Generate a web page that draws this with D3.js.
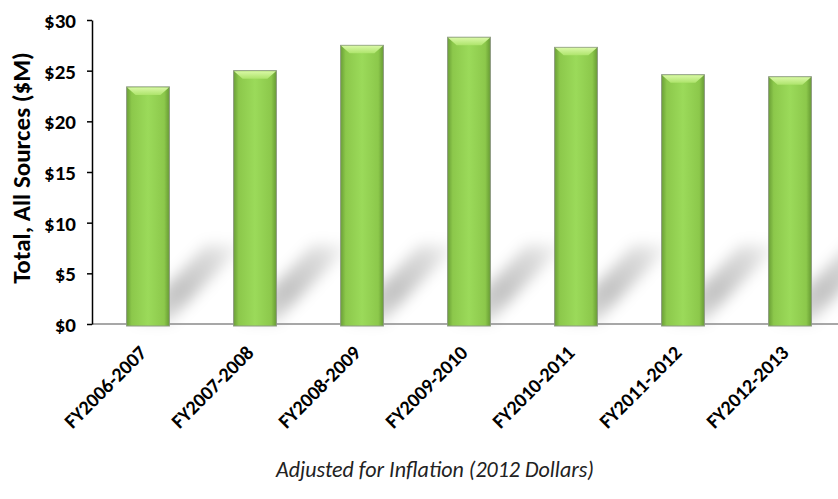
<!DOCTYPE html>
<html>
<head>
<meta charset="utf-8">
<script src="https://cdn.jsdelivr.net/npm/d3@7"></script>
<style>
  html, body { margin: 0; padding: 0; background: #fff; }
  svg { display: block; }
  text { font-family: Carlito, Lato, "Open Sans", sans-serif; }
</style>
</head>
<body>
<svg id="chart" width="838" height="499"></svg>
<script>
// values ($M, 2012 dollars)
const years = ['FY2006-2007', 'FY2007-2008', 'FY2008-2009', 'FY2009-2010', 'FY2010-2011', 'FY2011-2012', 'FY2012-2013'];
const totals = [23.4, 25.0, 27.5, 28.3, 27.3, 24.6, 24.4];
const yTicks = [0, 5, 10, 15, 20, 25, 30];

const W = 838, H = 499;
const svg = d3.select('#chart');

const x = d3.scaleBand().domain(years).range([94.5, 843.5]).paddingInner(0.6).paddingOuter(0.3);
const y = d3.scaleLinear().domain([0, 30]).range([324, 20]);
const base = y(0);

const defs = svg.append('defs');
const bodyGrad = defs.append('linearGradient').attr('id', 'bodyG').attr('x1', 0).attr('x2', 1).attr('y1', 0).attr('y2', 0);
[[0, '#6a9f36'], [0.12, '#8cc84b'], [0.5, '#9bda5a'], [0.88, '#8cc84b'], [1, '#679b33']]
  .forEach(([o, c]) => bodyGrad.append('stop').attr('offset', o).attr('stop-color', c));
const topGrad = defs.append('linearGradient').attr('id', 'topG').attr('x1', 0).attr('x2', 0).attr('y1', 0).attr('y2', 1);
[[0, '#d9f8a6'], [1, '#aee46c']].forEach(([o, c]) => topGrad.append('stop').attr('offset', o).attr('stop-color', c));
const shGrad = defs.append('linearGradient').attr('id', 'shG').attr('x1', 0).attr('x2', 1).attr('y1', 1).attr('y2', 0);
[[0, '#000', 0.08], [0.4, '#000', 0.24], [0.75, '#000', 0.15], [1, '#000', 0.02]]
  .forEach(([o, c, a]) => shGrad.append('stop').attr('offset', o).attr('stop-color', c).attr('stop-opacity', a));
defs.append('filter').attr('id', 'blur').attr('x', '-30%').attr('y', '-30%').attr('width', '160%').attr('height', '160%')
  .append('feGaussianBlur').attr('stdDeviation', 7);

const rows = years.map((k, i) => ({ k, v: totals[i] }));
const bw = x.bandwidth();

// floor shadows behind the bars
const sdx = 74, sdy = -80;
svg.append('g').attr('filter', 'url(#blur)').selectAll('polygon').data(rows).join('polygon')
  .attr('points', (d) => {
    const x0 = x(d.k);
    return [[x0 + 6, base - 2], [x0 + bw, base - 2], [x0 + bw + sdx, base + sdy], [x0 + 6 + sdx, base + sdy]].map((p) => p.join(',')).join(' ');
  })
  .attr('fill', 'url(#shG)');

// baseline
svg.append('line').attr('x1', 92).attr('x2', W).attr('y1', base).attr('y2', base)
  .attr('stroke', '#8a8a8a').attr('stroke-width', 1.5);

// bars
const bars = svg.append('g').selectAll('g').data(rows).join('g');
bars.append('rect')
  .attr('x', (d) => x(d.k)).attr('y', (d) => y(d.v))
  .attr('width', bw).attr('height', (d) => base - y(d.v) + 2)
  .attr('fill', 'url(#bodyG)').attr('stroke', '#8d9a82').attr('stroke-width', 1);
bars.append('polygon')
  .attr('points', (d) => {
    const x0 = x(d.k), t = y(d.v);
    return [[x0 + 0.5, t + 0.5], [x0 + bw - 0.5, t + 0.5], [x0 + bw - 9, t + 8], [x0 + 9, t + 8]].map((p) => p.join(',')).join(' ');
  })
  .attr('fill', 'url(#topG)');

// y axis
const yAxis = svg.append('g').attr('transform', 'translate(92,0)')
  .call(d3.axisLeft(y).tickValues(yTicks).tickSize(5).tickSizeOuter(0).tickFormat((d) => `$${d}`));
yAxis.select('.domain').attr('stroke', '#000').attr('stroke-width', 1.5);
yAxis.selectAll('.tick line').attr('stroke', '#000').attr('stroke-width', 1.5);
yAxis.selectAll('.tick text').attr('x', -16).attr('dy', '0.35em').attr('fill', '#000')
  .style('font-size', '21px').style('font-weight', 'bold').style('font-family', 'Carlito, Lato, sans-serif');

svg.append('text').attr('transform', 'translate(30,168) rotate(-90)')
  .attr('text-anchor', 'middle').style('font-size', '25px').style('font-weight', 'bold')
  .text('Total, All Sources ($M)');

// x labels
svg.append('g').selectAll('text').data(years).join('text')
  .attr('transform', (d) => `translate(${x(d) + bw / 2},${base + 30}) rotate(-45)`)
  .attr('text-anchor', 'end').style('font-size', '20px').style('font-weight', 'bold')
  .text((d) => d);

svg.append('text').attr('x', 435).attr('y', 477).attr('text-anchor', 'middle')
  .style('font-size', '22px').style('font-style', 'italic').attr('fill', '#222')
  .text('Adjusted for Inflation (2012 Dollars)');
</script>
</body>
</html>
